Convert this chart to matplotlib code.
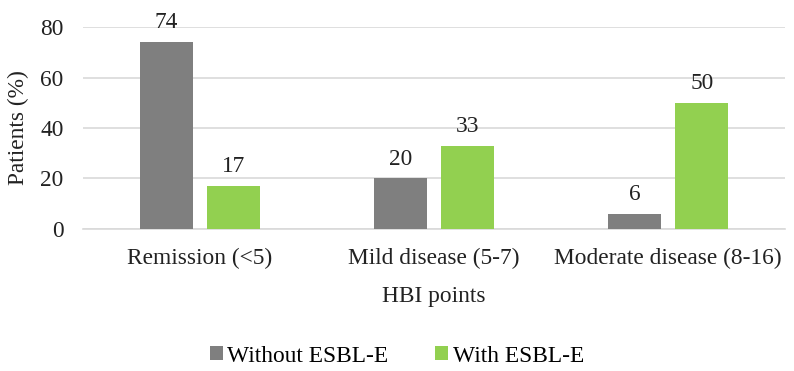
import numpy as np
import matplotlib.pyplot as plt

categories = ["Remission (<5)", "Mild disease (5-7)", "Moderate disease (8-16)"]
without_esbl = [74, 20, 6]
with_esbl = [17, 33, 50]

plt.rcParams['font.family'] = ['Liberation Serif', 'DejaVu Serif']
plt.rcParams['font.size'] = 16.8

fig = plt.figure(figsize=(7.94, 3.71), dpi=100)
ax = fig.add_axes([0.1045, 0.383, 0.8845, 0.544])

x = np.arange(len(categories))
w = 0.227
off = w / 2 + 0.03
b1 = ax.bar(x - off, without_esbl, w, color='#7f7f7f', label='Without ESBL-E', zorder=3)
b2 = ax.bar(x + off, with_esbl, w, color='#92d050', label='With ESBL-E', zorder=3)

for bars, vals in ((b1, without_esbl), (b2, with_esbl)):
    for rect, v in zip(bars, vals):
        ax.text(rect.get_x() + rect.get_width() / 2, v + 3.5, str(v),
                ha='center', va='bottom', color='#222222', clip_on=False)

ax.set_xlim(-0.5, 2.5)
ax.set_ylim(0, 80)
ax.set_yticks([0, 20, 40, 60, 80])
ax.set_xticks(x)
ax.set_xticklabels(categories)
ax.grid(axis='y', color='#d9d9d9', linewidth=1.2, zorder=0)
for s in ['top', 'right', 'left']:
    ax.spines[s].set_visible(False)
ax.spines['bottom'].set_color('#d9d9d9')
ax.spines['bottom'].set_linewidth(1.2)
ax.tick_params(length=0, colors='#222222')
ax.tick_params(axis='y', pad=14)
ax.tick_params(axis='x', pad=14)
ax.set_xlabel("HBI points", color='#222222', labelpad=12)
ax.set_ylabel("Patients (%)", color='#222222', labelpad=8)

fig.legend(handles=[b1, b2], loc='center', bbox_to_anchor=(0.5, 0.04), ncol=2,
           frameon=False, handlelength=0.55, handleheight=0.55, handletextpad=0.2,
           columnspacing=2.0)

fig.savefig("out.png", dpi=100)
